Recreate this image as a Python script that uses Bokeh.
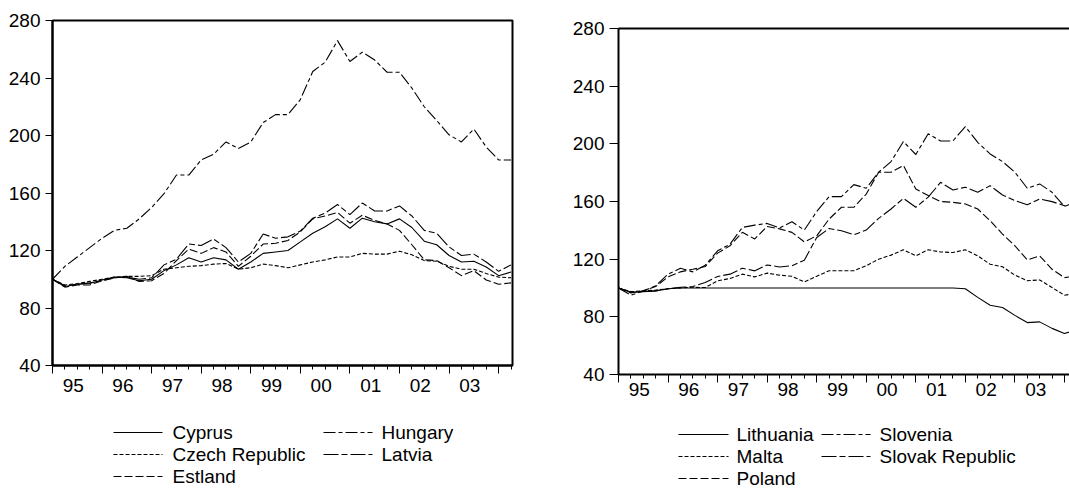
from bokeh.plotting import figure
from bokeh.layouts import row, column
from bokeh.models import Range1d, FixedTicker, LinearAxis, CustomJSTickFormatter
from bokeh.core.properties import value
from bokeh.embed import file_html
from bokeh.resources import INLINE

FONT = "Liberation Sans"
FSIZE = "19px"

# ---------------- data ----------------
quarters = [f"{y}Q{q}" for y in range(1995, 2005) for q in range(1, 5)][:38]  # 1995Q1 .. 2004Q2
year_labels = ["95", "96", "97", "98", "99", "00", "01", "02", "03"]
y_ticks = [40, 80, 120, 160, 200, 240, 280]

cyprus = [100, 95, 96.5, 97, 99.5, 101.5, 101, 99, 100, 106, 110, 115, 112, 115, 113.5, 107,
          112, 118, 119, 120, 126, 132, 136.5, 142, 135.5, 142.5, 140, 138.5, 142, 136,
          126.5, 124, 116.5, 112, 112.5, 108.5, 102.5, 105]
czech = [100, 96, 97, 98.5, 100, 101.5, 102, 102, 102.5, 107, 108, 109, 109.5, 110.5, 111, 107,
         108, 110.5, 109.5, 108, 110, 112, 113.5, 115.5, 115.5, 118, 117.5, 117.5, 119.5, 117,
         113, 112.5, 109, 107, 107, 104, 101.5, 101]
estland = [100, 94.5, 96, 96, 99, 101, 102, 98.5, 99, 104, 113, 121, 118, 122, 119, 109,
           116, 124.5, 125, 127, 133, 142, 144, 146.5, 139, 144.5, 141, 138.5, 134, 124,
           113.5, 113, 108, 102.5, 106, 99.5, 96.5, 97.5]
hungary = [100, 109, 115.5, 122, 128.5, 134, 135.5, 142, 150, 159.5, 172.5, 172.5, 183, 187,
           195.5, 191, 195.5, 209, 214.5, 214.5, 225, 244.5, 251, 266, 251.5, 258, 252.5,
           244, 244, 233, 220, 210.5, 200.5, 195.5, 204.5, 192, 183, 183]
latvia = [100, 95.5, 96.5, 97.5, 99, 101, 101.5, 100, 101, 110, 114, 124.5, 123.5, 128, 122, 112,
          118, 131.5, 128.5, 129.5, 133.5, 142.5, 146, 152, 145, 153, 147.5, 147.5, 151, 144,
          134, 132, 122.5, 116.5, 117.5, 112, 105.5, 110]

lithuania = [100, 97, 97.5, 98, 99.5, 100, 100, 100, 100, 100, 100, 100, 100, 100, 100, 100,
             100, 100, 100, 100, 100, 100, 100, 100, 100, 100, 100, 100, 99.5, 93.5,
             88, 86.5, 81, 76, 76.5, 72, 68.5, 71]
malta = [100, 97.5, 98, 98.5, 99.5, 100, 100.5, 100.3, 105, 106.6, 109.6, 107.7, 110.3, 108.9,
         108.1, 104.2, 108.1, 112, 112, 112, 115.4, 120, 122.8, 126.5, 122.3, 126.5, 125,
         124.6, 126.5, 122.3, 116.5, 114.7, 108.9, 105, 105.6, 100.3, 95, 96.3]
poland = [100, 96.5, 98, 101, 107.7, 111.2, 113, 114.9, 124.2, 129.3, 138.6, 134, 142.7, 141,
          138.6, 132, 136.2, 147.8, 156, 156, 165.2, 180.3, 180.3, 185, 168.7, 164.1, 160,
          159.4, 158.3, 154.8, 146.7, 137.4, 129.3, 119.5, 122.3, 113, 107.2, 108.4]
slovak = [100, 97, 97.5, 98, 99.5, 100.5, 101, 103.8, 108, 109.6, 113.7, 111.9, 116, 114.6,
          115.4, 119.3, 135, 141.3, 139.7, 136.9, 140.2, 148.3, 154.8, 162.2, 156, 163,
          173.3, 168, 169.9, 166.4, 171, 164.5, 160.6, 157.8, 161.8, 159.9, 157.1, 159.4]
slovenia = [100, 95, 98, 101.5, 109.6, 113.7, 111.2, 115.8, 125.8, 130.4, 142, 143.6, 144.8,
            141.6, 146, 140.2, 153, 163.4, 163.4, 171.7, 169.2, 180.3, 187.7, 201.6, 192.6,
            207, 202, 202, 212, 201, 193, 187.7, 180.3, 169.2, 172.2, 166.4, 156.6, 159.4]


def qpos(label):
    return int(label[:4]) + (int(label[5]) - 1) * 0.25


x = [qpos(q) for q in quarters]
first_year = int(quarters[0][:4])
year_bounds = [first_year + k for k in range(len(year_labels) + 1)]
year_label_pos = [first_year + k + 0.42 for k in range(len(year_labels))]

left_series = [
    ("Cyprus", cyprus, "solid"),
    ("Czech Republic", czech, "4 2"),
    ("Estland", estland, "8 3"),
    ("Hungary", hungary, "12 3 4 3"),
    ("Latvia", latvia, "15 3 6 3"),
]
right_series = [
    ("Lithuania", lithuania, "solid"),
    ("Malta", malta, "4 2"),
    ("Poland", poland, "8 3"),
    ("Slovenia", slovenia, "12 3 4 3"),
    ("Slovak Republic", slovak, "15 3 6 3"),
]

PLOT_H = 405
LEG_H = 84


def style_text(ax):
    ax.major_label_text_font = FONT
    ax.major_label_text_font_size = FSIZE
    ax.major_label_text_color = "black"


def make_plot(width, b_left, b_right, b_top, b_bottom, x_end, boxed, ytick_out, xl_standoff, series):
    p = figure(width=width, height=PLOT_H, x_range=Range1d(x[0], x_end),
               y_range=Range1d(y_ticks[0], y_ticks[-1]),
               x_axis_type=None, y_axis_type=None,
               output_backend="svg", toolbar_location=None,
               min_border_left=b_left, min_border_right=b_right,
               min_border_top=b_top, min_border_bottom=b_bottom)
    p.background_fill_color = "white"
    p.border_fill_color = "white"
    if boxed:
        p.outline_line_color = "black"
        p.outline_line_width = 2
    else:
        p.outline_line_color = None
        top = LinearAxis(ticker=FixedTicker(ticks=[]), major_tick_out=0, major_tick_in=0,
                         minor_tick_out=0, minor_tick_in=0, axis_line_width=2,
                         axis_line_color="black", major_label_standoff=0)
        top.major_label_text_font_size = "1px"
        p.add_layout(top, "above")

    yax = LinearAxis(ticker=FixedTicker(ticks=y_ticks), major_tick_out=ytick_out, major_tick_in=0,
                     minor_tick_out=0, minor_tick_in=0, major_label_standoff=5,
                     axis_line_width=2, axis_line_color="black",
                     major_tick_line_color="black")
    style_text(yax)
    p.add_layout(yax, "left")

    xt = LinearAxis(ticker=FixedTicker(ticks=year_bounds, minor_ticks=x),
                    formatter=CustomJSTickFormatter(code="return ''"),
                    major_tick_out=8, major_tick_in=0, minor_tick_out=4, minor_tick_in=0,
                    axis_line_width=2, axis_line_color="black",
                    major_tick_line_color="black", minor_tick_line_color="black",
                    major_label_standoff=0)
    xt.major_label_text_font_size = "1px"
    p.add_layout(xt, "below")

    xl = LinearAxis(ticker=FixedTicker(ticks=year_label_pos),
                    formatter=CustomJSTickFormatter(args=dict(labels=year_labels, start=first_year),
                                                    code="return labels[Math.floor(tick) - start]"),
                    axis_line_color=None, major_tick_out=0, major_tick_in=0,
                    minor_tick_out=0, minor_tick_in=0, major_label_standoff=xl_standoff)
    style_text(xl)
    p.add_layout(xl, "below")

    for name, vals, dash in series:
        p.line(x, vals, line_color="black", line_width=1.1, line_dash=dash)
    return p


def make_legend(width, b_left, b_right, series, cols, rows):
    # frame shares the plot's left/right borders; data units == pixels of the figure
    lg = figure(width=width, height=LEG_H, x_range=Range1d(b_left, width - b_right),
                y_range=Range1d(LEG_H, 0),
                x_axis_type=None, y_axis_type=None, output_backend="svg",
                toolbar_location=None, min_border_left=b_left, min_border_right=b_right,
                min_border_top=0, min_border_bottom=0)
    lg.outline_line_color = None
    lg.background_fill_color = "white"
    lg.border_fill_color = "white"
    for k, (name, vals, dash) in enumerate(series):
        c = 0 if k < 3 else 1
        r = k if k < 3 else k - 3
        x0, x1, xt = cols[c]
        yy = rows[r]
        lg.segment(x0=[x0], y0=[yy], x1=[x1], y1=[yy], line_color="black",
                   line_width=1.1, line_dash=dash)
        lg.text(x=[xt], y=[yy], text=[name], text_font=value(FONT),
                text_font_size=value(FSIZE), text_baseline="middle",
                text_align="left", text_color="black")
    return lg


LW, RW = 540, 529
pL = make_plot(LW, 52, 28, 20, 40, x[-1] + 0.03, True, 7, 5, left_series)
pR = make_plot(RW, 78, 0, 28, 31, 1995 + 451 / 49.55, False, 9, 0, right_series)

lgL = make_legend(LW, 52, 28, left_series, [(113, 162, 172), (323, 372, 381)], [27, 49, 71])
lgR = make_legend(RW, 78, 0, right_series, [(138, 188, 196), (281, 330, 339)], [29, 51, 73])

layout = row(column(pL, lgL), column(pR, lgR))

open("out.html", "w").write(file_html(layout, INLINE))
